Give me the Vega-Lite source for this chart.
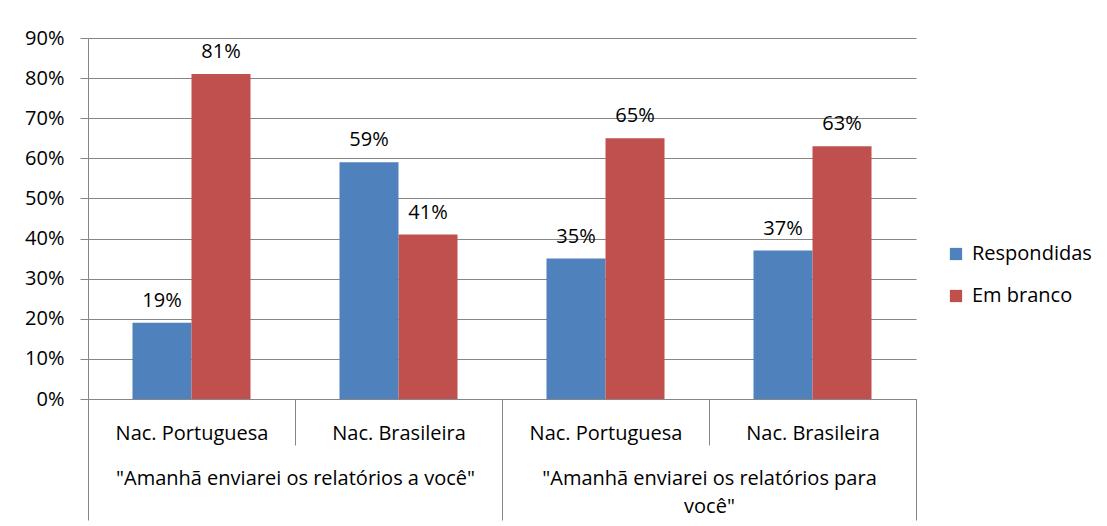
{
  "$schema": "https://vega.github.io/schema/vega-lite/v6.json",
  "width": 828,
  "height": 361,
  "autosize": {"type": "none"},
  "padding": {"left": 88, "top": 38, "right": 191, "bottom": 127},
  "background": "white",
  "data": {
    "values": [
      {"group": "\"Amanhã enviarei os relatórios a você\"", "cat": "G1|Nac. Portuguesa", "serie": "Respondidas", "value": 0.19},
      {"group": "\"Amanhã enviarei os relatórios a você\"", "cat": "G1|Nac. Portuguesa", "serie": "Em branco", "value": 0.81},
      {"group": "\"Amanhã enviarei os relatórios a você\"", "cat": "G1|Nac. Brasileira", "serie": "Respondidas", "value": 0.59},
      {"group": "\"Amanhã enviarei os relatórios a você\"", "cat": "G1|Nac. Brasileira", "serie": "Em branco", "value": 0.41},
      {"group": "\"Amanhã enviarei os relatórios para você\"", "cat": "G2|Nac. Portuguesa", "serie": "Respondidas", "value": 0.35},
      {"group": "\"Amanhã enviarei os relatórios para você\"", "cat": "G2|Nac. Portuguesa", "serie": "Em branco", "value": 0.65},
      {"group": "\"Amanhã enviarei os relatórios para você\"", "cat": "G2|Nac. Brasileira", "serie": "Respondidas", "value": 0.37},
      {"group": "\"Amanhã enviarei os relatórios para você\"", "cat": "G2|Nac. Brasileira", "serie": "Em branco", "value": 0.63}
    ]
  },
  "config": {
    "font": "Open Sans",
    "view": {"stroke": null},
    "axis": {
      "labelFont": "Open Sans",
      "labelFontSize": 20,
      "labelColor": "#000000",
      "domainColor": "#868686",
      "tickColor": "#868686",
      "gridColor": "#868686",
      "domainWidth": 1,
      "tickWidth": 1,
      "gridWidth": 1
    },
    "legend": {
      "labelFont": "Open Sans",
      "labelFontSize": 20,
      "labelColor": "#000000"
    }
  },
  "layer": [
    {
      "encoding": {
        "x": {
          "field": "cat",
          "type": "nominal",
          "sort": null,
          "scale": {"paddingInner": 0, "paddingOuter": 0},
          "axis": {
            "orient": "bottom",
            "title": null,
            "labelExpr": "split(datum.label, '|')[1]",
            "labelAngle": 0,
            "labelBaseline": "top",
            "labelPadding": -22,
            "labelLimit": 400,
            "ticks": true,
            "tickBand": "extent",
            "tickSize": 46,
            "grid": false,
            "domain": true
          }
        },
        "xOffset": {
          "field": "serie",
          "type": "nominal",
          "sort": ["Respondidas", "Em branco"],
          "scale": {"paddingInner": 0, "paddingOuter": 0.754}
        },
        "y": {
          "field": "value",
          "type": "quantitative",
          "scale": {"domain": [0, 0.9], "nice": false},
          "axis": {
            "title": null,
            "format": ".0%",
            "values": [0, 0.1, 0.2, 0.3, 0.4, 0.5, 0.6, 0.7, 0.8, 0.9],
            "tickSize": 8,
            "labelPadding": 16,
            "grid": true,
            "domain": true
          }
        }
      },
      "layer": [
        {
          "mark": {"type": "bar"},
          "encoding": {
            "color": {
              "field": "serie",
              "type": "nominal",
              "scale": {"domain": ["Respondidas", "Em branco"], "range": ["#4F81BD", "#C0504D"]},
              "legend": {
                "title": null,
                "orient": "none",
                "legendX": 858,
                "legendY": 206,
                "symbolType": "square",
                "symbolSize": 150,
                "symbolStrokeWidth": 0,
                "symbolOpacity": 1,
                "labelOffset": 6,
                "rowPadding": 22
              }
            }
          }
        },
        {
          "mark": {"type": "text", "baseline": "alphabetic", "dy": -16, "fontSize": 20, "font": "Open Sans", "color": "#000000"},
          "encoding": {
            "text": {"field": "value", "type": "quantitative", "format": ".0%"}
          }
        }
      ]
    },
    {
      "mark": {"type": "text", "opacity": 0},
      "encoding": {
        "x": {
          "field": "group",
          "type": "nominal",
          "sort": null,
          "scale": {"paddingInner": 0, "paddingOuter": 0},
          "axis": {
            "orient": "bottom",
            "title": null,
            "labelAngle": 0,
            "labelBaseline": "top",
            "labelPadding": -52,
            "labelLimit": 0,
            "labelLineHeight": 28,
            "labelExpr": "length(datum.label) > 38 ? [slice(datum.label, 0, lastindexof(datum.label, ' ')), slice(datum.label, lastindexof(datum.label, ' ') + 1)] : datum.label",
            "ticks": true,
            "tickBand": "extent",
            "tickSize": 121,
            "grid": false,
            "domain": false
          }
        },
        "text": {"value": ""}
      }
    }
  ],
  "resolve": {"scale": {"x": "independent"}, "axis": {"x": "independent"}}
}
